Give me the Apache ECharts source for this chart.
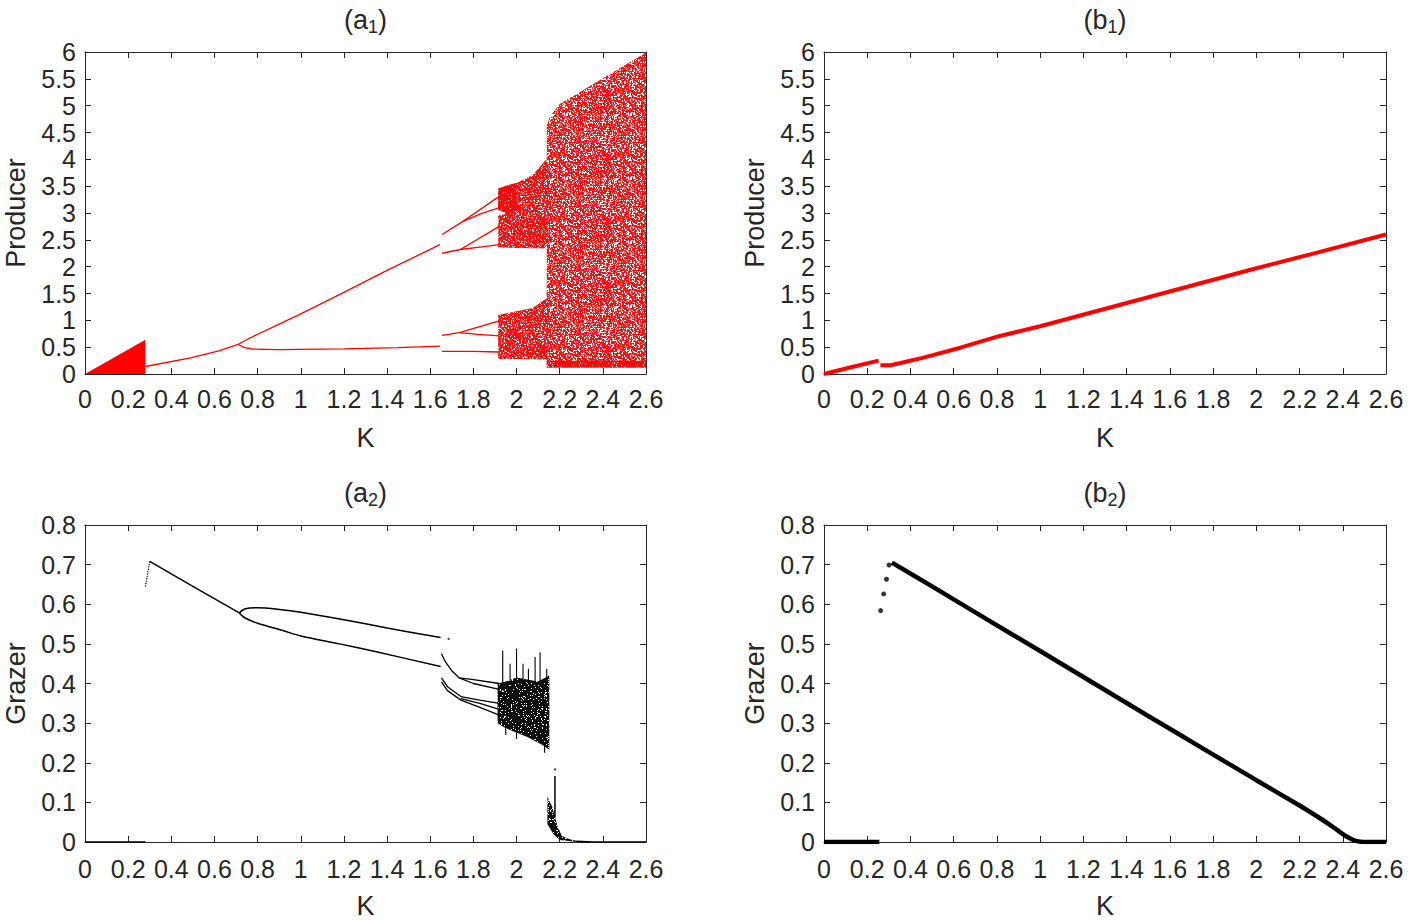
<!DOCTYPE html>
<html><head><meta charset="utf-8">
<script src="https://cdn.jsdelivr.net/npm/echarts/dist/echarts.min.js"></script>
<style>html,body{margin:0;padding:0;background:#fff}#c{width:1411px;height:920px}</style>
</head><body><div id="c"></div>
<script>
// ---------- DATA ----------
// (a1) Producer vs K
const A1_TRIANGLE = [[0,0],[0.28,0.64],[0.28,0]];
const A1_PERIOD1 = [[0.28,0.14],[0.49,0.30],[0.62,0.43],[0.71,0.55]];
const A1_UPPER = [[0.71,0.55],[0.74,0.62],[0.8,0.74],[0.9,0.93],[1.0,1.12],[1.2,1.52],[1.4,1.93],[1.645,2.41]];
const A1_LOWER = [[0.71,0.55],[0.74,0.49],[0.78,0.465],[0.9,0.455],[1.2,0.47],[1.45,0.49],[1.645,0.52]];
const A1_U_A = [[1.655,2.60],[1.75,2.84],[1.92,3.31]];
const A1_U_B = [[1.75,2.84],[1.83,2.98],[1.92,3.10]];
const A1_M_A = [[1.655,2.25],[1.74,2.32],[1.92,2.75]];
const A1_M_B = [[1.74,2.32],[1.82,2.36],[1.92,2.41]];
const A1_L_A = [[1.655,0.72],[1.735,0.77],[1.92,0.99]];
const A1_L_B = [[1.735,0.77],[1.82,0.74],[1.92,0.71]];
const A1_L_C = [[1.655,0.42],[1.8,0.42],[1.92,0.41]];
const A1_FAN_UP = [[1.915,3.06],[1.915,3.45],[1.96,3.52],[2.0,3.56],[2.0,3.05],[1.96,3.0]];
const A1_CHAOS_UP = [[1.915,2.36],[1.915,2.95],[1.95,3.0],[1.915,3.06],[1.915,3.45],[2.0,3.56],[2.075,3.71],[2.136,3.99],[2.15,3.9],[2.15,2.34],[2.0,2.35]];
const A1_CHAOS_LO = [[1.915,0.28],[1.915,1.1],[2.0,1.17],[2.075,1.23],[2.136,1.40],[2.15,1.38],[2.15,0.27]];
const A1_CHAOS_B = [[2.14,0.12],[2.14,4.62],[2.155,4.8],[2.2,5.03],[2.3,5.27],[2.4,5.51],[2.5,5.75],[2.6,5.99],[2.6,0.12]];
const A1_BAND_B = [[2.14,0.12],[2.14,0.25],[2.6,0.25],[2.6,0.12]];

// (b1) Producer vs K
const B1_SEG1 = [[0,0.0],[0.125,0.125],[0.253,0.25]];
const B1_SEG2 = [[0.261,0.163],[0.308,0.163],[0.369,0.22],[0.456,0.30],[0.631,0.49],[0.805,0.70],[1.0,0.89],[1.25,1.16],[1.5,1.43],[1.75,1.70],[2.0,1.97],[2.25,2.23],[2.6,2.6]];

// (a2) Grazer vs K
const A2_ZERO_L = [[0,0],[0.28,0]];
const A2_DOTTED = [[0.28,0.645],[0.30,0.708]];
const A2_PERIOD1 = [[0.30,0.708],[0.5,0.645],[0.715,0.578]];
const A2_UPPER = [[0.715,0.578],[0.74,0.588],[0.8,0.591],[0.9,0.587],[1.0,0.58],[1.2,0.561],[1.4,0.54],[1.648,0.516]];
const A2_LOWER = [[0.715,0.578],[0.74,0.566],[0.8,0.552],[0.92,0.533],[1.0,0.52],[1.18,0.50],[1.35,0.48],[1.648,0.443]];
const A2_DOT = [[1.685,0.5125]];
const A2_C1 = [[1.652,0.475],[1.67,0.455],[1.7,0.432],[1.734,0.414],[1.8,0.41],[1.92,0.40]];
const A2_C1B = [[1.734,0.414],[1.8,0.40],[1.92,0.385]];
const A2_C2 = [[1.652,0.414],[1.68,0.392],[1.742,0.367],[1.83,0.358],[1.92,0.35]];
const A2_C2B = [[1.652,0.404],[1.68,0.382],[1.742,0.358],[1.83,0.34],[1.92,0.32]];
const A2_C2C = [[1.742,0.362],[1.83,0.35],[1.92,0.335]];
const A2_CLOUD = [[1.912,0.40],[1.95,0.405],[2.0,0.415],[2.05,0.41],[2.1,0.405],[2.152,0.42],[2.152,0.233],[2.12,0.245],[2.05,0.265],[1.98,0.28],[1.94,0.29],[1.912,0.30]];
const A2_STREAKS = [[1.936,0.40,0.483],[1.97,0.40,0.45],[2.0,0.40,0.488],[2.03,0.40,0.45],[2.055,0.40,0.4375],[2.086,0.40,0.467],[2.109,0.40,0.479],[2.14,0.40,0.4375],[1.95,0.27,0.30],[2.0,0.26,0.29],[2.13,0.225,0.25]];
const A2_CLUSTER = [[2.143,0.115],[2.155,0.10],[2.165,0.09],[2.18,0.06],[2.19,0.04],[2.21,0.015],[2.25,0.006],[2.28,0.003],[2.28,0],[2.2,0.005],[2.17,0.02],[2.155,0.035],[2.143,0.045]];
const A2_SPIKE = [[2.178,0.0625,0.1667]];
const A2_SPIKE_DOT = [[2.178,0.183]];
const A2_TAIL = [[2.28,0.002],[2.35,0],[2.6,0]];

// (b2) Grazer vs K
const B2_ZERO = [[0,0],[0.256,0]];
const B2_DOTS = [[0.262,0.584],[0.276,0.626],[0.289,0.663],[0.301,0.699]];
const B2_LINE = [[0.314,0.705],[0.5,0.645],[0.75,0.563],[1.0,0.482],[1.25,0.40],[1.5,0.318],[1.75,0.237],[2.0,0.156],[2.2,0.092],[2.3,0.058],[2.36,0.036],[2.4,0.02],[2.43,0.01],[2.46,0.003],[2.5,0],[2.6,0]];

const TITLES = [['a','1'],['b','1'],['a','2'],['b','2']];
const Y_NAMES = ['Producer','Producer','Grazer','Grazer'];
const X_NAME = 'K';
const Y_RANGES = [[0,6,0.5],[0,6,0.5],[0,0.8,0.1],[0,0.8,0.1]];
const X_RANGE = [0,2.6,0.2];

// ---------- LAYOUT / STYLE ----------
const FONT = '"Liberation Sans", Arial, Helvetica, sans-serif';
const TXT = '#262626';
const GRIDS = [
  {left:85, top:52, width:561, height:322},
  {left:824, top:52, width:562, height:322},
  {left:85, top:525, width:561, height:320},
  {left:824, top:525, width:562, height:320}
];

// speckle texture for dense point clouds (pure styling, deterministic hash)
function speckle(rgb, whiteShare) {
  const N = 64;
  const c = document.createElement('canvas');
  c.width = N; c.height = N;
  const ctx = c.getContext('2d');
  ctx.fillStyle = 'rgb(' + rgb.join(',') + ')';
  ctx.fillRect(0, 0, N, N);
  ctx.fillStyle = '#ffffff';
  for (let y = 0; y < N; y++) for (let x = 0; x < N; x++) {
    let h = Math.imul(x + 11, 374761393) ^ Math.imul(y + 7, 668265263);
    h = Math.imul(h ^ (h >>> 13), 1274126177);
    h = (h ^ (h >>> 16)) >>> 0;
    if ((h % 1000) < whiteShare * 1000) ctx.fillRect(x, y, 1, 1);
  }
  return {image: c, repeat: 'repeat', imageWidth: N, imageHeight: N};
}

const xAxes = [], yAxes = [];
GRIDS.forEach((g, gi) => {
  ['bottom','top'].forEach(pos => xAxes.push({
    type:'value', gridIndex:gi, position:pos, min:X_RANGE[0], max:X_RANGE[1], interval:X_RANGE[2],
    axisLine:{show:true, onZero:false, lineStyle:{color:TXT, width:1}},
    axisTick:{show:true, inside:true, length:6, lineStyle:{color:TXT}},
    axisLabel:{show:pos==='bottom', color:TXT, fontSize:25, fontFamily:FONT, margin:gi >= 2 ? 14 : 12},
    splitLine:{show:false},
    name: pos==='bottom' ? X_NAME : '', nameLocation:'middle', nameGap:50,
    nameTextStyle:{color:TXT, fontSize:27, fontFamily:FONT}
  }));
  const yr = Y_RANGES[gi];
  ['left','right'].forEach(pos => yAxes.push({
    type:'value', gridIndex:gi, position:pos, min:yr[0], max:yr[1], interval:yr[2],
    axisLine:{show:true, onZero:false, lineStyle:{color:TXT, width:1}},
    axisTick:{show:true, inside:true, length:6, lineStyle:{color:TXT}},
    axisLabel:{show:pos==='left', color:TXT, fontSize:25, fontFamily:FONT, margin:9},
    splitLine:{show:false},
    name: pos==='left' ? Y_NAMES[gi] : '', nameLocation:'middle', nameGap:56,
    nameTextStyle:{color:TXT, fontSize:27, fontFamily:FONT}
  }));
});

function lineS(data, gi, color, width, type, smooth) {
  return {type:'line', xAxisIndex:2*gi, yAxisIndex:2*gi, data:data, symbol:'none', showSymbol:false, smooth:smooth||false,
    lineStyle:{color:color, width:width, type:type||'solid'}, animation:false, silent:true, z:5};
}
function polyS(pts, gi, fill, z) {
  return {type:'custom', xAxisIndex:2*gi, yAxisIndex:2*gi, data:pts, animation:false, silent:true, z:z||3,
    renderItem:function(params, api){
      if (params.dataIndex !== 0) return null;
      return {type:'polygon', shape:{points:pts.map(p => api.coord(p))}, style:{fill:fill}};
    }};
}
function streakS(data, gi, color, width) {
  return {type:'custom', xAxisIndex:2*gi, yAxisIndex:2*gi, data:data, encode:{x:0, y:[1,2]}, animation:false, silent:true, z:4,
    renderItem:function(params, api){
      const a = api.coord([api.value(0), api.value(1)]);
      const b = api.coord([api.value(0), api.value(2)]);
      return {type:'line', shape:{x1:a[0], y1:a[1], x2:b[0], y2:b[1]}, style:{stroke:color, lineWidth:width}};
    }};
}
function dotS(data, gi, color, size) {
  return {type:'scatter', xAxisIndex:2*gi, yAxisIndex:2*gi, data:data, symbolSize:size, itemStyle:{color:color}, animation:false, silent:true, z:6};
}

const RED = '#ff0000', BLK = '#000000';
const SPK_B = speckle([240,20,20], 0.32);
const SPK_MID = speckle([240,20,20], 0.2);
const SPK_DENSE = speckle([245,10,10], 0.06);
const SPK_BLK = speckle([15,15,15], 0.1);

const series = [
  polyS(A1_TRIANGLE, 0, RED),
  lineS(A1_PERIOD1, 0, RED, 1.3), lineS(A1_UPPER, 0, RED, 1.3), lineS(A1_LOWER, 0, RED, 1.3),
  lineS(A1_U_A, 0, RED, 1.3), lineS(A1_U_B, 0, RED, 1.3), lineS(A1_M_A, 0, RED, 1.3), lineS(A1_M_B, 0, RED, 1.3),
  lineS(A1_L_A, 0, RED, 1.3), lineS(A1_L_B, 0, RED, 1.3), lineS(A1_L_C, 0, RED, 1.3),
  polyS(A1_CHAOS_B, 0, SPK_B, 2),
  polyS(A1_BAND_B, 0, SPK_DENSE, 3),
  polyS(A1_CHAOS_UP, 0, SPK_MID, 3),
  polyS(A1_FAN_UP, 0, SPK_DENSE, 4),
  polyS(A1_CHAOS_LO, 0, SPK_MID, 3),

  lineS(B1_SEG1, 1, RED, 4), lineS(B1_SEG2, 1, RED, 4),

  lineS(A2_ZERO_L, 2, BLK, 1.5), lineS(A2_DOTTED, 2, BLK, 1.2, 'dotted'),
  lineS(A2_PERIOD1, 2, BLK, 1.5), lineS(A2_UPPER, 2, BLK, 1.5, null, 0.3), lineS(A2_LOWER, 2, BLK, 1.5, null, 0.3),
  dotS(A2_DOT, 2, BLK, 2),
  lineS(A2_C1, 2, BLK, 1.3), lineS(A2_C1B, 2, BLK, 1.3), lineS(A2_C2, 2, BLK, 1.3), lineS(A2_C2B, 2, BLK, 1.3), lineS(A2_C2C, 2, BLK, 1.3),
  polyS(A2_CLOUD, 2, SPK_BLK, 3),
  streakS(A2_STREAKS, 2, BLK, 1.1),
  polyS(A2_CLUSTER, 2, SPK_BLK, 3),
  streakS(A2_SPIKE, 2, BLK, 1.5), dotS(A2_SPIKE_DOT, 2, BLK, 2),
  lineS(A2_TAIL, 2, BLK, 1.5),

  lineS(B2_ZERO, 3, BLK, 4.5), dotS(B2_DOTS, 3, BLK, 5), lineS(B2_LINE, 3, BLK, 4.5, null, 0.2)
];

const graphics = TITLES.map((t, i) => {
  const g = GRIDS[i];
  return {type:'text', x:g.left + g.width/2, y:g.top - 32, z:10,
    style:{text:'(' + t[0] + '{s|' + t[1] + '})', align:'center', verticalAlign:'middle',
      fill:TXT, fontSize:27, fontFamily:FONT,
      rich:{s:{fontSize:18, fontFamily:FONT, fill:TXT, padding:[14,0,0,0]}}}};
});

const chart = echarts.init(document.getElementById('c'), null, {renderer:'svg', width:1411, height:920});
chart.setOption({
  backgroundColor:'#ffffff',
  animation:false,
  grid: GRIDS.map(g => Object.assign({containLabel:false}, g)),
  xAxis: xAxes, yAxis: yAxes,
  series: series,
  graphic: graphics
});
</script></body></html>
